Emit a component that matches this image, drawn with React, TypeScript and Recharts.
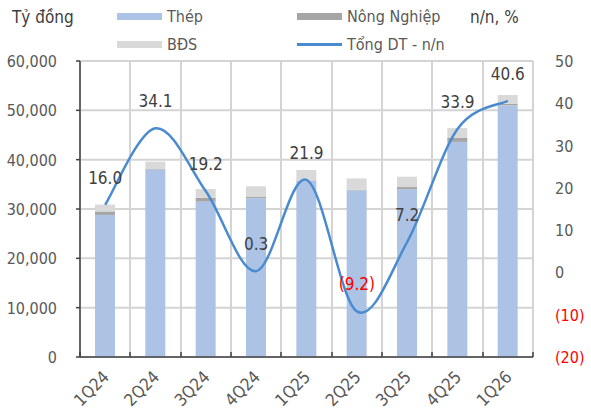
import React from "react";
import {
  ComposedChart,
  Bar,
  Line,
  XAxis,
  YAxis,
  CartesianGrid,
  LabelList,
} from "recharts";

// Quarterly revenue by segment (billion VND) and total revenue growth y/y (%)
const quarters = ["1Q24", "2Q24", "3Q24", "4Q24", "1Q25", "2Q25", "3Q25", "4Q25", "1Q26"];
const thep = [28800, 38000, 31500, 32200, 35700, 33800, 34000, 43600, 51000];
const nongNghiep = [700, 100, 800, 300, 100, 100, 450, 800, 300];
const bds = [1400, 1500, 1750, 2100, 2100, 2300, 2100, 2000, 1800];
const tongDtYoy = [16.0, 34.1, 19.2, 0.3, 21.9, -9.2, 7.2, 33.9, 40.6];

const leftTicks = [0, 10000, 20000, 30000, 40000, 50000, 60000];
const rightTicks = [-20, -10, 0, 10, 20, 30, 40, 50];

const data = quarters.map((q, i) => ({
  q,
  thep: thep[i],
  nn: nongNghiep[i],
  bds: bds[i],
  yoy: tongDtYoy[i],
}));

// Chart frame
const W = 591;
const H = 416;
const MARGIN = { top: 61, right: 8, bottom: 0, left: 10 };
const LEFT_AXIS_W = 70;
const RIGHT_AXIS_W = 50;
const PLOT_LEFT = MARGIN.left + LEFT_AXIS_W;
const PLOT_W = W - PLOT_LEFT - MARGIN.right - RIGHT_AXIS_W;
const BAND = PLOT_W / quarters.length;
// Vertical gridlines on the category boundaries, snapped to whole pixels
const boundaryXs = Array.from({ length: quarters.length + 1 }, (_, i) =>
  Math.round(PLOT_LEFT + i * BAND)
);

const FONT = "'DejaVu Sans Condensed', 'DejaVu Sans', sans-serif";
const TEXT = "#595959";
const RED = "#ff0000";
const AXIS = "#404040";
const GRID = "#d4d4d4";
const C_THEP = "#adc3e6";
const C_NN = "#a5a5a5";
const C_BDS = "#d9d9d9";
const C_LINE = "#4a8bd0";

const fmtPct = (v: number) => (v < 0 ? `(${Math.abs(v).toFixed(1)})` : v.toFixed(1));

// Excel-style smoothed line: cubic Bezier with Catmull-Rom tangents (1/6 factor)
const excelSmooth = (context: any) => {
  let pts: [number, number][] = [];
  return {
    areaStart() {},
    areaEnd() {},
    lineStart() {
      pts = [];
    },
    point(x: number, y: number) {
      pts.push([+x, +y]);
    },
    lineEnd() {
      if (!pts.length) return;
      context.moveTo(pts[0][0], pts[0][1]);
      for (let i = 0; i < pts.length - 1; i++) {
        const p0 = pts[i - 1] || pts[i];
        const p1 = pts[i];
        const p2 = pts[i + 1];
        const p3 = pts[i + 2] || p2;
        const c1x = p1[0] + (p2[0] - p0[0]) / 6;
        const c1y = p1[1] + (p2[1] - p0[1]) / 6;
        const c2x = p2[0] - (p3[0] - p1[0]) / 6;
        const c2y = p2[1] - (p3[1] - p1[1]) / 6;
        context.bezierCurveTo(c1x, c1y, c2x, c2y, p2[0], p2[1]);
      }
    },
  };
};

const LeftTick = (props: any) => {
  const { x, y, payload } = props;
  return (
    <text x={x} y={y} dy={6} textAnchor="end" fill={TEXT} fontSize={16} fontFamily={FONT}>
      {Number(payload.value).toLocaleString("en-US")}
    </text>
  );
};

const RightTick = (props: any) => {
  const { x, y, payload } = props;
  const v = Number(payload.value);
  return (
    <text x={x} y={y} dy={6} textAnchor="start" fill={v < 0 ? RED : TEXT} fontSize={16} fontFamily={FONT}>
      {v < 0 ? `(${Math.abs(v)})` : v}
    </text>
  );
};

// Rotated quarter label plus short inward tick marks on the category boundaries
const QuarterTick = (props: any) => {
  const { x, y, payload, index } = props;
  const axisY = y - 2;
  const ax = x + 5;
  const ay = axisY + 21;
  const isLast = index === quarters.length - 1;
  const left = Math.round(x - BAND / 2);
  const right = Math.round(x + BAND / 2);
  return (
    <g>
      <line x1={left} x2={left} y1={axisY} y2={axisY - 5} stroke={AXIS} strokeWidth={1.5} />
      {isLast && <line x1={right} x2={right} y1={axisY} y2={axisY - 5} stroke={AXIS} strokeWidth={1.5} />}
      <text
        x={ax}
        y={ay}
        textAnchor="end"
        fill={TEXT}
        fontSize={17}
        fontFamily={FONT}
        transform={`rotate(-45, ${ax}, ${ay})`}
      >
        {payload.value}
      </text>
    </g>
  );
};

const YoyLabel = (props: any) => {
  const { x, y, value } = props;
  const v = Number(value);
  return (
    <text
      x={x}
      y={y - 21}
      textAnchor="middle"
      fill={v < 0 ? RED : "#404040"}
      fontSize={17}
      fontFamily={FONT}
    >
      {fmtPct(v)}
    </text>
  );
};

const legendText: React.CSSProperties = {
  position: "absolute",
  fontFamily: FONT,
  fontSize: 16,
  color: TEXT,
  lineHeight: "18px",
  whiteSpace: "nowrap",
};

const Swatch = ({ left, top, color }: { left: number; top: number; color: string }) => (
  <div style={{ position: "absolute", left, top, width: 45, height: 7, background: color }} />
);

export default function App() {
  return (
    <div style={{ position: "absolute", left: 0, top: 0, width: W, height: H, background: "#fff" }}>
      <ComposedChart width={W} height={H} data={data} margin={MARGIN} barCategoryGap={0}>
        <CartesianGrid stroke={GRID} strokeWidth={2} yAxisId="left" verticalPoints={boundaryXs} />
        <XAxis
          dataKey="q"
          height={59}
          axisLine={{ stroke: AXIS, strokeWidth: 1.5 }}
          tickLine={false}
          tickSize={0}
          tickMargin={2}
          interval={0}
          tick={<QuarterTick />}
        />
        <YAxis
          yAxisId="left"
          width={LEFT_AXIS_W}
          domain={[0, 60000]}
          ticks={leftTicks}
          interval={0}
          axisLine={{ stroke: AXIS, strokeWidth: 1.5 }}
          tickLine={{ stroke: AXIS, strokeWidth: 1.5 }}
          tickSize={4}
          tickMargin={19}
          tick={<LeftTick />}
        />
        <YAxis
          yAxisId="right"
          orientation="right"
          width={RIGHT_AXIS_W}
          domain={[-20, 50]}
          ticks={rightTicks}
          interval={0}
          axisLine={false}
          tickLine={false}
          tickSize={0}
          tickMargin={22}
          tick={<RightTick />}
        />
        <Bar dataKey="thep" stackId="s" yAxisId="left" fill={C_THEP} barSize={20} isAnimationActive={false} />
        <Bar dataKey="nn" stackId="s" yAxisId="left" fill={C_NN} barSize={20} isAnimationActive={false} />
        <Bar dataKey="bds" stackId="s" yAxisId="left" fill={C_BDS} barSize={20} isAnimationActive={false} />
        <Line
          dataKey="yoy"
          yAxisId="right"
          type={excelSmooth as any}
          stroke={C_LINE}
          strokeWidth={2.5}
          dot={false}
          isAnimationActive={false}
        >
          <LabelList dataKey="yoy" content={<YoyLabel />} />
        </Line>
      </ComposedChart>

      <div style={{ ...legendText, left: 12, top: 8, fontSize: 17, color: "#404040" }}>Tỷ đồng</div>
      <div style={{ ...legendText, left: 470, top: 8, fontSize: 17, color: "#404040" }}>n/n, %</div>

      <Swatch left={117} top={13} color={C_THEP} />
      <div style={{ ...legendText, left: 167, top: 8 }}>Thép</div>
      <Swatch left={297} top={13} color={C_NN} />
      <div style={{ ...legendText, left: 347, top: 8 }}>Nông Nghiệp</div>

      <Swatch left={117} top={41} color={C_BDS} />
      <div style={{ ...legendText, left: 167, top: 36 }}>BĐS</div>
      <div style={{ position: "absolute", left: 297, top: 43, width: 45, height: 2.5, background: C_LINE }} />
      <div style={{ ...legendText, left: 347, top: 36 }}>Tổng DT - n/n</div>
    </div>
  );
}
